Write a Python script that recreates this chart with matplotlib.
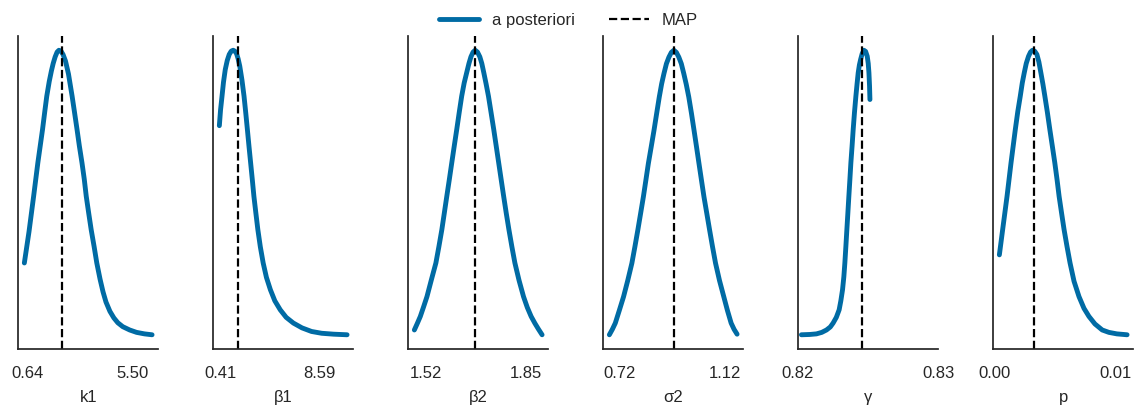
import matplotlib
matplotlib.use("Agg")
import matplotlib.pyplot as plt
from matplotlib.lines import Line2D

plt.rcParams['font.family'] = ['Liberation Sans', 'DejaVu Sans']

# ---- data ----
labels = ["k1", "β1", "β2", "σ2", "γ", "p"]
tick_values = [[0.64, 5.50], [0.41, 8.59], [1.52, 1.85], [0.72, 1.12], [0.82, 0.83], [0.00, 0.01]]
map_values = [2.245, 1.823, 1.683, 0.9275, 0.824571, 0.003287]

k1_x = [0.484, 0.700, 0.915, 1.112, 1.328, 1.433, 1.525, 1.640, 1.740, 1.823, 1.915, 2.006,
        2.089, 2.190, 2.281, 2.396, 2.534, 2.703, 2.809, 2.932, 3.038, 3.162, 3.267, 3.359,
        3.473, 3.588, 3.726, 3.849, 4.001, 4.138, 4.276, 4.459, 4.643, 4.826, 5.055, 5.376,
        5.697, 6.064, 6.417]
k1_y = [0.286, 0.390, 0.508, 0.620, 0.730, 0.790, 0.841, 0.890, 0.925, 0.950, 0.972, 0.988,
        0.994, 0.991, 0.980, 0.958, 0.915, 0.841, 0.790, 0.730, 0.676, 0.619, 0.565, 0.508,
        0.452, 0.397, 0.340, 0.286, 0.232, 0.190, 0.156, 0.125, 0.103, 0.087, 0.074, 0.063,
        0.055, 0.050, 0.047]

b1_x = [0.329, 0.426, 0.548, 0.670, 0.816, 0.979, 1.141, 1.304, 1.466, 1.604, 1.742, 1.872,
        2.010, 2.189, 2.360, 2.498, 2.636, 2.766, 2.904, 3.042, 3.172, 3.334, 3.497, 3.700,
        3.935, 4.203, 4.528, 4.894, 5.341, 5.828, 6.421, 7.128, 7.916, 8.752, 9.727, 10.840]
b1_y = [0.743, 0.795, 0.841, 0.888, 0.930, 0.960, 0.980, 0.991, 0.994, 0.991, 0.983, 0.966,
        0.941, 0.895, 0.841, 0.787, 0.730, 0.675, 0.619, 0.563, 0.508, 0.452, 0.397, 0.340,
        0.286, 0.238, 0.197, 0.160, 0.130, 0.105, 0.086, 0.070, 0.058, 0.052, 0.049, 0.047]

b2_x = [1.4818, 1.4916, 1.5014, 1.5122, 1.5233, 1.5373, 1.5527, 1.5625, 1.5723, 1.5804,
        1.5886, 1.5968, 1.6049, 1.6131, 1.6213, 1.6295, 1.6376, 1.6458, 1.6540, 1.6615,
        1.6680, 1.6752, 1.6821, 1.6896, 1.6974, 1.7039, 1.7105, 1.7180, 1.7258, 1.7343,
        1.7432, 1.7513, 1.7595, 1.7677, 1.7758, 1.7843, 1.7931, 1.8029, 1.8128, 1.8265,
        1.8412, 1.8536, 1.8663, 1.8788, 1.8902, 1.9023]
b2_y = [0.063, 0.085, 0.108, 0.140, 0.174, 0.228, 0.286, 0.340, 0.397, 0.452,
        0.508, 0.563, 0.619, 0.675, 0.730, 0.787, 0.841, 0.885, 0.919, 0.950,
        0.972, 0.988, 0.994, 0.988, 0.972, 0.950, 0.919, 0.882, 0.841, 0.787,
        0.730, 0.675, 0.619, 0.563, 0.508, 0.452, 0.397, 0.340, 0.286, 0.228,
        0.174, 0.138, 0.108, 0.085, 0.066, 0.047]

s2_x = [0.6823, 0.6936, 0.7049, 0.7200, 0.7362, 0.7521, 0.7679, 0.7792, 0.7906, 0.8011,
        0.8117, 0.8211, 0.8306, 0.8415, 0.8521, 0.8623, 0.8721, 0.8811, 0.8898, 0.8992,
        0.9087, 0.9181, 0.9275, 0.9370, 0.9464, 0.9559, 0.9653, 0.9747, 0.9842, 0.9943,
        1.0042, 1.0136, 1.0230, 1.0325, 1.0419, 1.0528, 1.0634, 1.0747, 1.0860, 1.1011,
        1.1174, 1.1313, 1.1453, 1.1566, 1.1679]
s2_y = [0.047, 0.065, 0.086, 0.128, 0.174, 0.228, 0.286, 0.340, 0.397, 0.452,
        0.508, 0.563, 0.619, 0.675, 0.730, 0.787, 0.841, 0.885, 0.919, 0.952,
        0.974, 0.990, 0.997, 0.990, 0.974, 0.952, 0.919, 0.883, 0.841, 0.787,
        0.730, 0.675, 0.619, 0.563, 0.508, 0.452, 0.397, 0.340, 0.286, 0.228,
        0.174, 0.128, 0.086, 0.065, 0.049]

g_x = [0.820243, 0.820836, 0.821314, 0.821693, 0.822029, 0.822300, 0.822500, 0.822729,
       0.822929, 0.823050, 0.823171, 0.823264, 0.823336, 0.823407, 0.823479, 0.823550,
       0.823621, 0.823693, 0.823764, 0.823850, 0.823929, 0.824021, 0.824121, 0.824207,
       0.824286, 0.824371, 0.824457, 0.824571, 0.824693, 0.824814, 0.824929, 0.825000,
       0.825050, 0.825093, 0.825121]
g_y = [0.047, 0.048, 0.050, 0.055, 0.063, 0.073, 0.086, 0.105,
       0.130, 0.160, 0.197, 0.240, 0.286, 0.340, 0.397, 0.452,
       0.508, 0.563, 0.619, 0.675, 0.730, 0.787, 0.841, 0.883,
       0.919, 0.945, 0.963, 0.983, 0.994, 0.990, 0.974, 0.950,
       0.919, 0.875, 0.830]

p_x = [0.000411, 0.000682, 0.001044, 0.001372, 0.001726, 0.001931, 0.002136, 0.002301,
       0.002465, 0.002629, 0.002818, 0.002983, 0.003147, 0.003328, 0.003509, 0.003673,
       0.003837, 0.004002, 0.004166, 0.004371, 0.004577, 0.004782, 0.004988, 0.005177,
       0.005341, 0.005546, 0.005752, 0.005998, 0.006245, 0.006574, 0.006984, 0.007395,
       0.007806, 0.008299, 0.008899, 0.009450, 0.010107, 0.010953]
p_y = [0.313, 0.397, 0.508, 0.619, 0.730, 0.790, 0.841, 0.885,
       0.919, 0.950, 0.974, 0.988, 0.994, 0.991, 0.980, 0.955,
       0.919, 0.882, 0.841, 0.788, 0.730, 0.675, 0.619, 0.562,
       0.508, 0.452, 0.397, 0.340, 0.286, 0.225, 0.174, 0.135,
       0.108, 0.083, 0.063, 0.055, 0.050, 0.047]

curves_x = [k1_x, b1_x, b2_x, s2_x, g_x, p_x]
curves_y = [k1_y, b1_y, b2_y, s2_y, g_y, p_y]

BLUE = "#006BA4"
EDGE = "#262626"

fig, axes = plt.subplots(1, 6, figsize=(11.37, 4.07), dpi=100)
fig.subplots_adjust(left=0.0158, right=0.9969, top=0.9115, bottom=0.1425, wspace=0.388)

for ax, xs, ys, lab, tv, mv in zip(axes, curves_x, curves_y, labels, tick_values, map_values):
    ax.plot(xs, ys, color=BLUE, lw=3.5, solid_capstyle='round', solid_joinstyle='round')
    ax.axvline(mv, color='black', lw=1.6, ls='--')
    ax.set_xticks(tv)
    ax.set_xticklabels([f"{v:.2f}" for v in tv])
    ax.set_yticks([])
    ax.set_xlabel(lab, fontsize=12, color=EDGE, labelpad=6.5)
    ax.tick_params(axis='x', length=0, pad=12, labelsize=12, labelcolor=EDGE)
    for side in ['top', 'right']:
        ax.spines[side].set_visible(False)
    for side in ['left', 'bottom']:
        ax.spines[side].set_color(EDGE)
        ax.spines[side].set_linewidth(1.25)

handles = [Line2D([], [], color=BLUE, lw=3.5, solid_capstyle='round'),
           Line2D([], [], color='black', lw=1.6, ls='--')]
fig.legend(handles, ["a posteriori", "MAP"], loc='upper center', bbox_to_anchor=(0.5, 1.005),
           ncol=2, frameon=False, fontsize=12, handlelength=2.4, columnspacing=2.0,
           labelcolor=EDGE)

fig.savefig("out.png", dpi=100, facecolor='white')
